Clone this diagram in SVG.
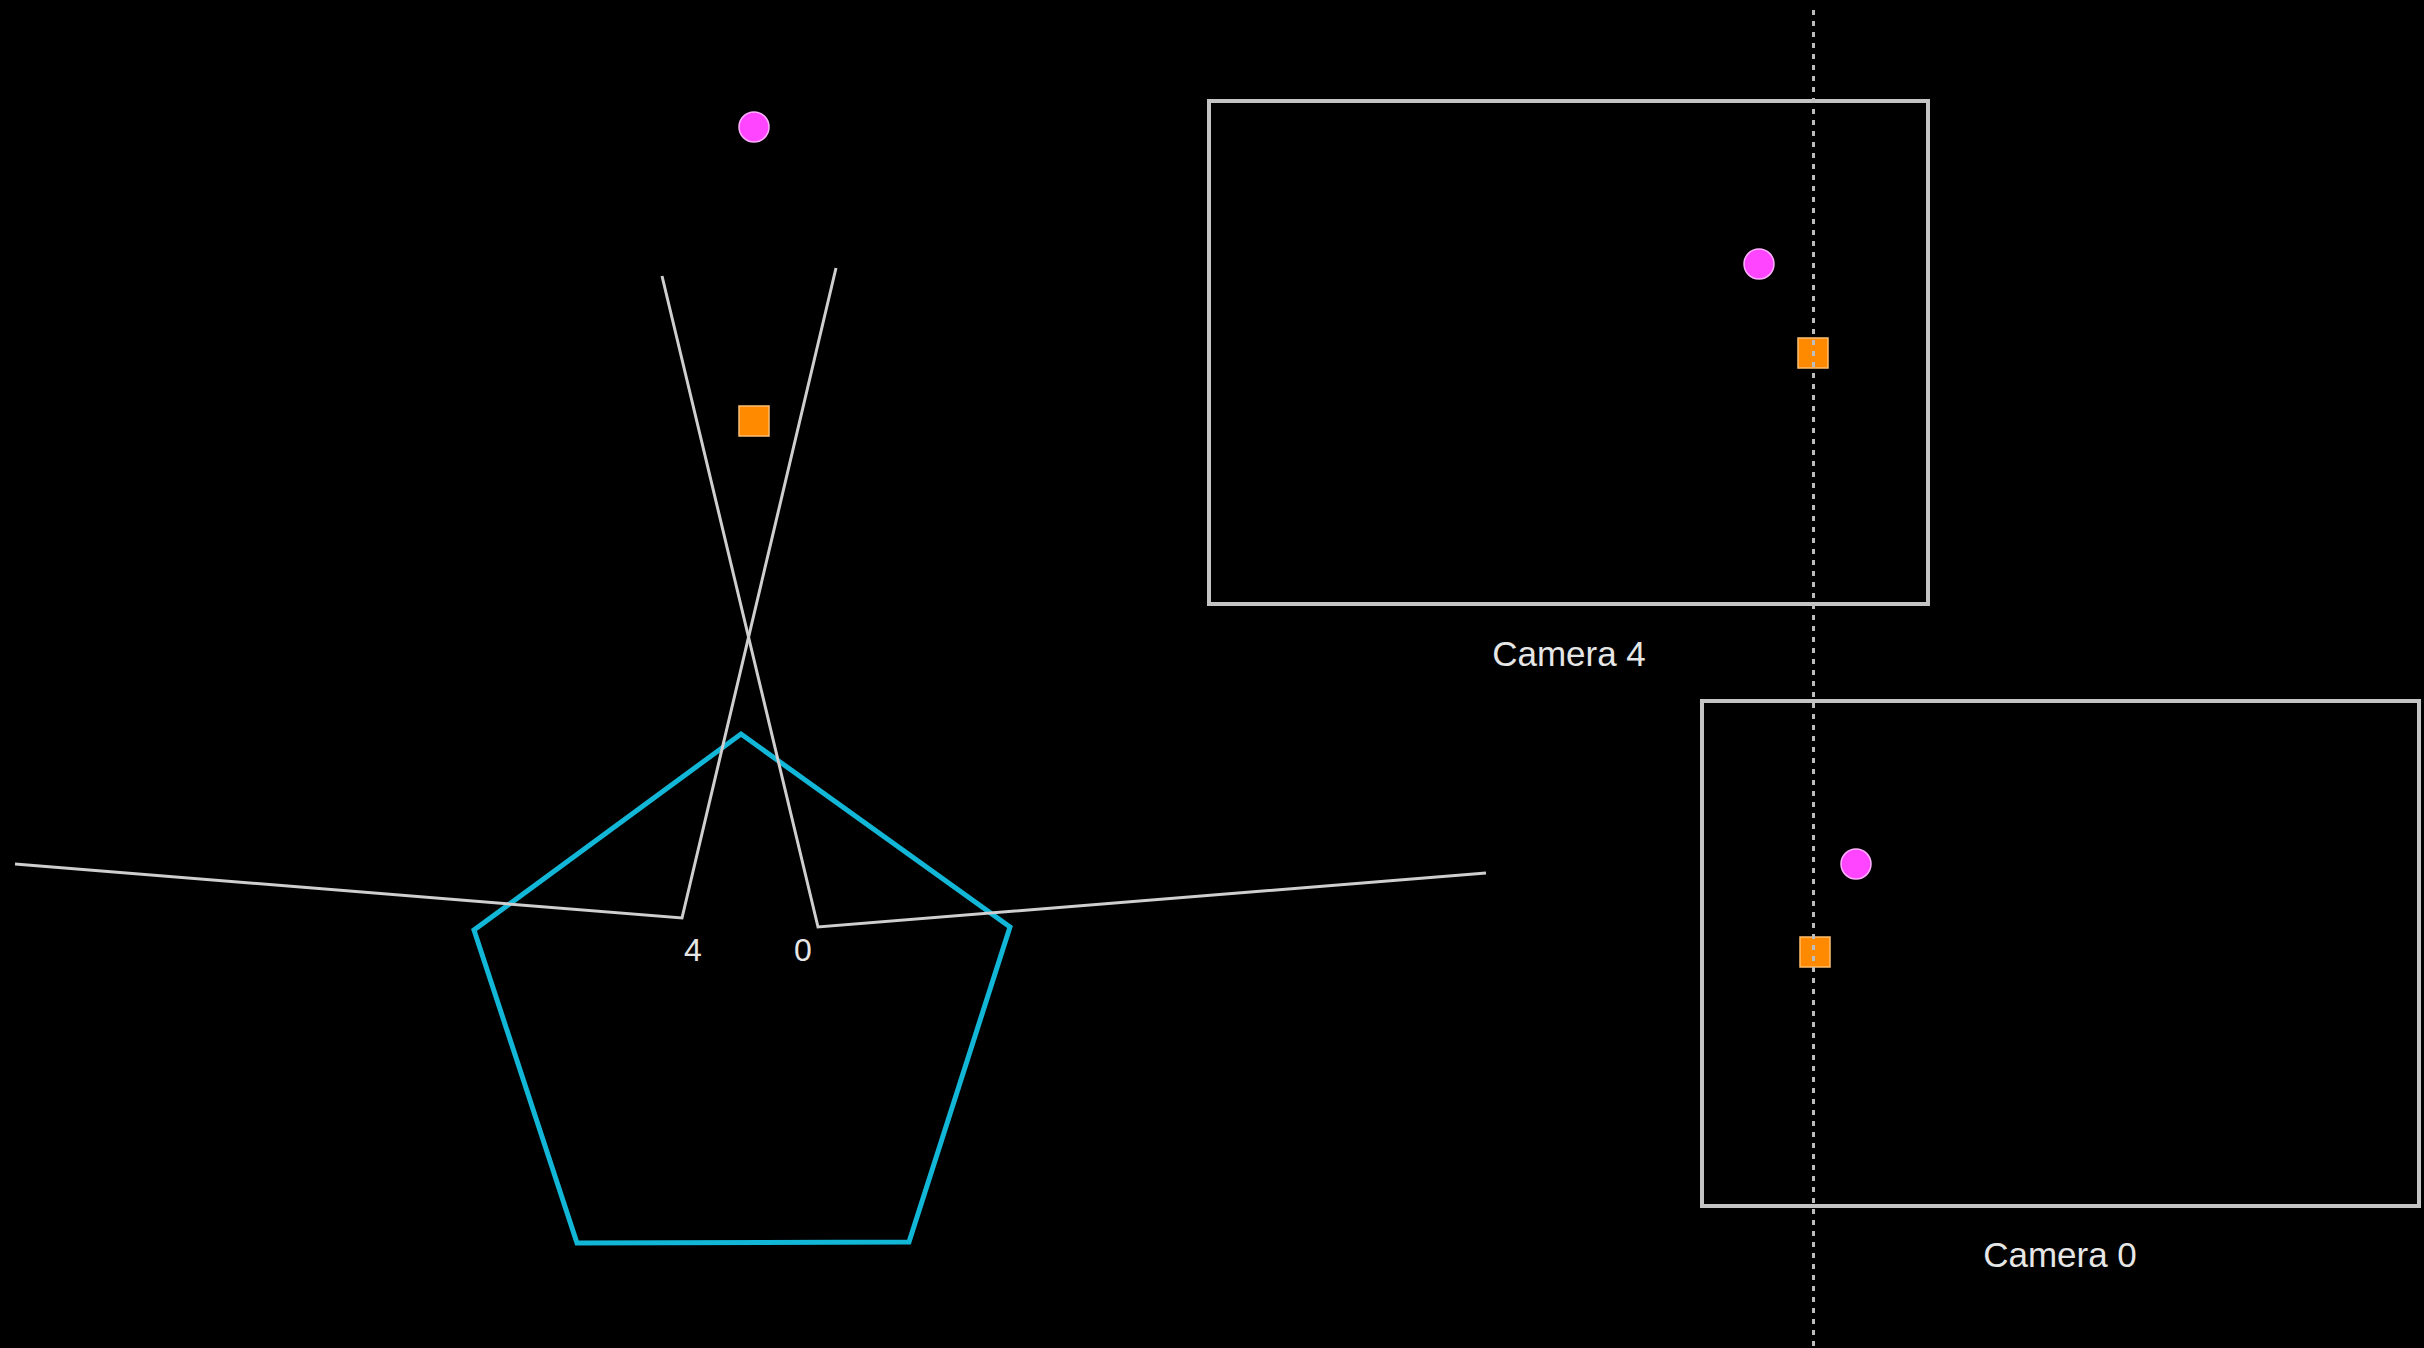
<svg xmlns="http://www.w3.org/2000/svg" width="2424" height="1348" viewBox="0 0 2424 1348">
<style>
.bg{fill:#000}
.ray{fill:none;stroke:#cfcfcf;stroke-width:3;stroke-linejoin:miter}
.frame{fill:none;stroke:#c4c4c4;stroke-width:4}
.pent{fill:none;stroke:#12b6d6;stroke-width:5;stroke-linejoin:miter}
.pt{fill:#ff45ff;stroke:#ffb0ff;stroke-width:1.5}
.sq{fill:#ff8a00;stroke:#ffbe70;stroke-width:1.5}
.dot{fill:none;stroke:#bdbdbd;stroke-width:3;stroke-dasharray:5 6}
.lbl{font-family:"Liberation Sans",Arial,sans-serif;fill:#e6e6e6;text-anchor:middle}
</style>
<rect class="bg" x="0" y="0" width="2424" height="1348"/>
<g id="scene">
  <g id="object-pentagon">
    <polygon class="pent" points="741,734 1010,927 909,1242 577,1243 474,930"/>
  </g>
  <g id="camera-4">
    <polyline class="ray" points="836,268 682,918 15,864"/>
    <text class="lbl" x="693" y="961" font-size="32">4</text>
  </g>
  <g id="camera-0">
    <polyline class="ray" points="662,276 818,927 1486,873"/>
    <text class="lbl" x="803" y="961" font-size="32">0</text>
  </g>
  <g id="point-magenta">
    <circle class="pt" cx="754" cy="127" r="15"/>
  </g>
  <g id="point-orange">
    <rect class="sq" x="739" y="406" width="30" height="30"/>
  </g>
</g>
<g id="view-camera-4">
  <rect class="frame" x="1209" y="101" width="719" height="503"/>
  <text class="lbl" x="1569" y="666" font-size="35">Camera 4</text>
  <circle class="pt" cx="1759" cy="264" r="15"/>
  <rect class="sq" x="1798" y="338" width="30" height="30"/>
</g>
<g id="view-camera-0">
  <rect class="frame" x="1702" y="701" width="717" height="505"/>
  <text class="lbl" x="2060" y="1267" font-size="35">Camera 0</text>
  <circle class="pt" cx="1856" cy="864" r="15"/>
  <rect class="sq" x="1800" y="937" width="30" height="30"/>
</g>
<g id="connectors">
  <line class="dot" x1="1813.5" y1="10" x2="1813.5" y2="1348"/>
</g>
</svg>
